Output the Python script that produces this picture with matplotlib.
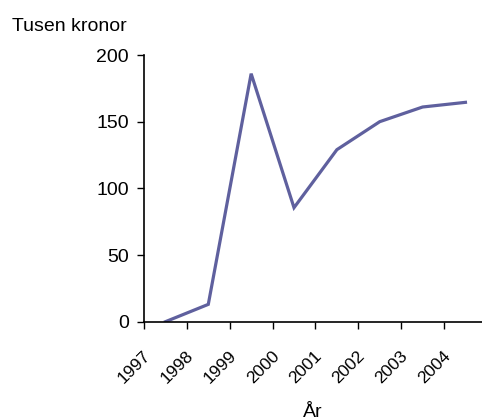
import matplotlib
matplotlib.use("Agg")
import matplotlib.pyplot as plt
from matplotlib.transforms import ScaledTranslation

years = ["1997", "1998", "1999", "2000", "2001", "2002", "2003", "2004"]
values = [0, 13, 186, 85.5, 129, 150, 161, 164.5]

plt.rcParams["font.family"] = ["Liberation Sans", "DejaVu Sans"]

fig = plt.figure(figsize=(4.82, 4.2), dpi=100)
ax = fig.add_axes([144 / 482, 1 - 321.7 / 420, 338 / 482, (321.7 - 55) / 420])

pos = list(range(len(years)))
ax.plot(pos, values, color="#5f609e", linewidth=2.3, solid_joinstyle="miter")

ax.set_ylim(0, 200)
ax.set_yticks([0, 50, 100, 150, 200])
ax.set_xlim(-0.5, -0.5 + 338 / 42.86)

# tick marks at category boundaries, labels at the centres
ax.set_xticks([p - 0.5 for p in pos])
ax.set_xticklabels([])
ax.set_xticks(pos, minor=True)
ax.set_xticklabels(years, minor=True, rotation=45, ha="right", va="top")
ax.tick_params(axis="x", which="minor", length=0, pad=19, labelsize=12.5)
ax.tick_params(axis="x", which="major", length=5, width=1, direction="out")
ax.tick_params(axis="y", length=5, width=1, pad=6, labelsize=14)
for lab in ax.get_xticklabels(minor=True):
    lab.set_transform(lab.get_transform() + ScaledTranslation(-0.12, 0, fig.dpi_scale_trans))

for side in ["top", "right"]:
    ax.spines[side].set_visible(False)
for side in ["left", "bottom"]:
    ax.spines[side].set_linewidth(1.2)

fig.text(12 / 482, 1 - 31 / 420, "Tusen kronor", fontsize=14, ha="left", va="baseline")
fig.text(313 / 482, 3 / 420, "År", fontsize=14, ha="center", va="baseline")

fig.savefig("out.png", dpi=100)
